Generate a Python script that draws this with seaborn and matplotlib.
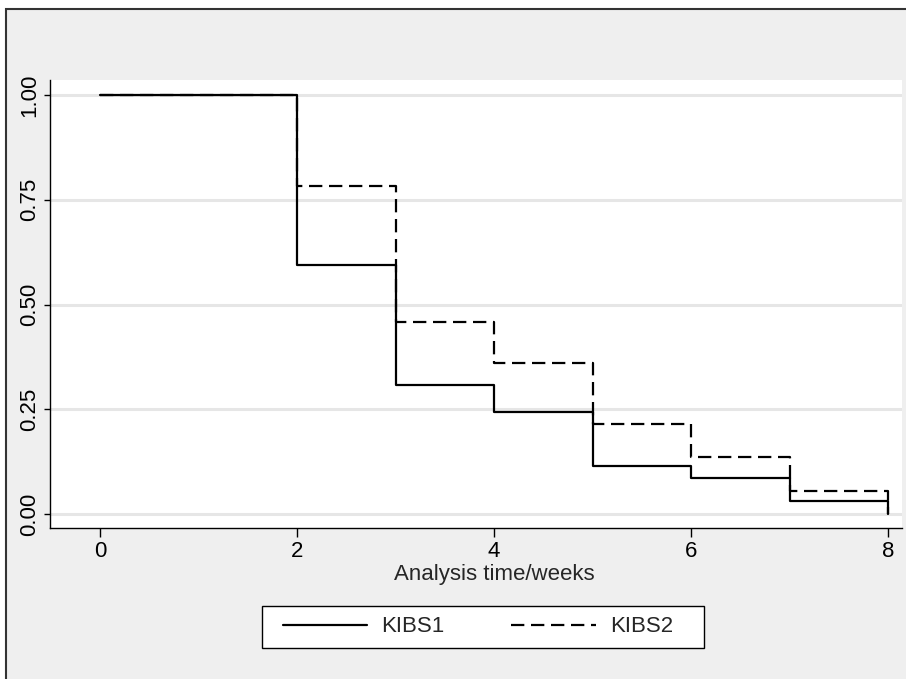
import matplotlib
matplotlib.use("Agg")
import matplotlib.pyplot as plt
import seaborn as sns
import pandas as pd
from matplotlib.patches import Rectangle

time_weeks = [0, 2, 3, 4, 5, 6, 7, 8]
kibs1_surv = [1.0, 0.594, 0.308, 0.243, 0.115, 0.086, 0.031, 0.0]
kibs2_surv = [1.0, 0.782, 0.458, 0.360, 0.215, 0.136, 0.055, 0.0]
groups = ["KIBS1", "KIBS2"]
y_ticks = [0.0, 0.25, 0.5, 0.75, 1.0]
y_ticklabels = ["0.00", "0.25", "0.50", "0.75", "1.00"]
x_ticks = [0, 2, 4, 6, 8]

df = pd.DataFrame({
    "time": time_weeks * 2,
    "surv": kibs1_surv + kibs2_surv,
    "group": [groups[0]] * len(time_weeks) + [groups[1]] * len(time_weeks),
})

sns.set_style("white")
plt.rcParams["font.family"] = ["Liberation Sans", "DejaVu Sans"]

W, H = 906, 679
fig = plt.figure(figsize=(W / 100, H / 100), dpi=100, facecolor="white")
bg = Rectangle((6 / W, -0.05), 1.2, 1 - 9 / H + 0.05, transform=fig.transFigure,
               facecolor="#efefef", edgecolor="#333333", linewidth=1.5, zorder=-10)
fig.patches.append(bg)

ax = fig.add_axes([50 / W, 1 - 528 / H, 852 / W, 448 / H])
ax.set_facecolor("white")

sns.lineplot(data=df, x="time", y="surv", hue="group", style="group",
             palette={"KIBS1": "black", "KIBS2": "black"},
             dashes={"KIBS1": "", "KIBS2": (6, 3)},
             drawstyle="steps-post", linewidth=1.6, ax=ax, legend=True)

ax.set_xlim(-0.508, 8.142)
ax.set_ylim(-0.0334, 1.036)
ax.set_yticks(y_ticks)
ax.set_yticklabels(y_ticklabels, rotation=90, va="center")
ax.set_xticks(x_ticks)
for y in y_ticks:
    ax.axhline(y, color="#e6e6e6", linewidth=2.2, zorder=0)

for s in ["top", "right"]:
    ax.spines[s].set_visible(False)
for s in ["left", "bottom"]:
    ax.spines[s].set_color("black")
    ax.spines[s].set_linewidth(1.0)
ax.tick_params(axis="x", direction="out", length=6.5, width=1.0, colors="black",
               labelsize=16, bottom=True, pad=3)
ax.tick_params(axis="y", direction="out", length=4, width=1.0, colors="black",
               labelsize=16, left=True, pad=3)
ax.set_xlabel("Analysis time/weeks", fontsize=16, labelpad=1)
ax.xaxis.label.set_x((494 - 50) / 852)
ax.set_ylabel("")

handles, labels = ax.get_legend_handles_labels()
ax.get_legend().remove()
frame = Rectangle((262 / W, 1 - 648 / H), 442 / W, 42 / H, transform=fig.transFigure,
                  facecolor="white", edgecolor="black", linewidth=1.0, zorder=1)
fig.patches.append(frame)
leg = fig.legend(handles, labels, loc="center", bbox_to_anchor=(478 / W, 1 - 627 / H),
                 ncol=2, frameon=False, fontsize=16,
                 handlelength=3.8, columnspacing=3.0, borderpad=0.3, handletextpad=0.65)
leg.set_zorder(5)

fig.savefig("out.png", dpi=100, facecolor=fig.get_facecolor())
